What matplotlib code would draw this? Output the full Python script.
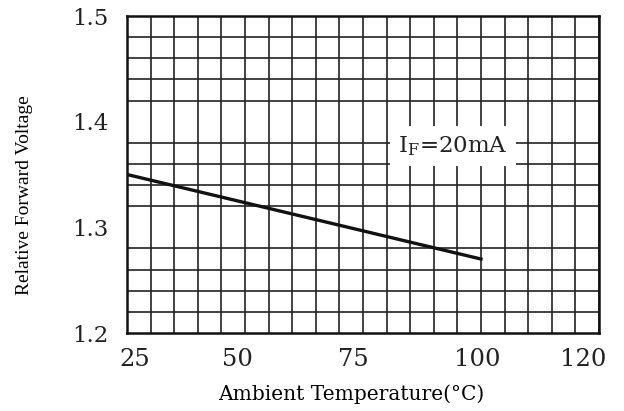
import numpy as np
import matplotlib
matplotlib.use('Agg')
import matplotlib.pyplot as plt

# data
temp = [25, 100]
vf_rel = [1.35, 1.27]

# axis labels / ticks
xtick_pos = [26.7, 48.5, 72.9, 99.2, 121.6]   # where the printed labels sit
xtick_lab = ['25', '50', '75', '100', '120']
ytick_pos = [1.2, 1.3, 1.4, 1.5]
ytick_lab = ['1.2', '1.3', '1.4', '1.5']

fig = plt.figure(figsize=(6.24, 4.11), dpi=100)
ax = fig.add_axes([127/624, 1-333/411, (599-127)/624, (333-16)/411])

ax.set_xlim(25, 125)
ax.set_ylim(1.2, 1.5)

# grid lines every 5 degC and every 0.02
ax.set_xticks(np.arange(25, 126, 5), minor=True)
ax.set_yticks(np.arange(1.2, 1.501, 0.02), minor=True)
ax.grid(which='minor', color='#222222', linewidth=1.2)
ax.set_axisbelow(True)

ax.set_xticks(xtick_pos)
ax.set_xticklabels(xtick_lab, family='DejaVu Serif', fontsize=17.5, color='#222222')
ax.set_yticks(ytick_pos)
ax.set_yticklabels(ytick_lab, family='DejaVu Serif', fontsize=16.5, color='#222222')
ax.tick_params(which='both', length=0)
ax.tick_params(axis='x', pad=11)
ax.tick_params(axis='y', pad=13)

for s in ax.spines.values():
    s.set_linewidth(1.8)
    s.set_color('#111111')

ax.plot(temp, vf_rel, color='#111111', linewidth=2.4, zorder=3)

# IF=20mA label box
ax.text(94.0, 1.377, 'I$_{\\mathregular{F}}$=20mA', family='DejaVu Serif', fontsize=16.5,
        ha='center', va='center', color='#222222', zorder=4,
        bbox=dict(facecolor='white', edgecolor='none', pad=6))

ax.set_xlabel('Ambient Temperature(°C)', family='DejaVu Serif', fontsize=14.5)
ax.xaxis.set_label_coords((351-127)/472, -(384-333)/317)
ax.set_ylabel('Relative Forward Voltage', family='Liberation Serif', fontsize=14)
ax.yaxis.set_label_coords(-(127-33)/472, (333-195)/317)

fig.savefig('out.png', dpi=100)
